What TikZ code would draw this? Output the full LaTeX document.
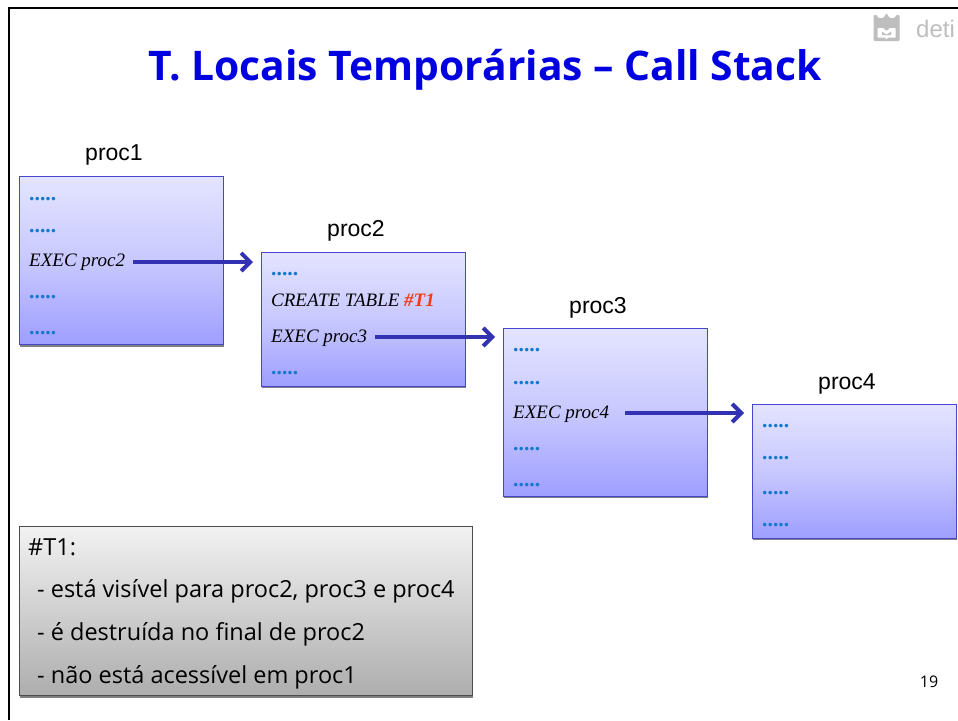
\documentclass[tikz,border=0pt]{standalone}
\usepackage{fontspec}
\setmainfont{Liberation Sans}
\newfontfamily\bodyfont{Open Sans}
\newfontfamily\codefont{Liberation Serif}
\usetikzlibrary{shadows,arrows.meta}
\definecolor{dotblue}{RGB}{20,120,205}
\definecolor{arrowblue}{RGB}{50,50,178}
\definecolor{boxedge}{RGB}{70,70,205}
\definecolor{logogray}{RGB}{190,190,190}
\definecolor{boxtop}{RGB}{228,228,255}
\definecolor{boxmid}{RGB}{200,200,255}
\definecolor{boxbot}{RGB}{158,158,255}
\tikzset{
  x=1pt,y=-1pt,
  softshadow/.style={drop shadow={shadow xshift=0.8pt,shadow yshift=-2pt,opacity=.5,fill=black}},
  procbox/.style={draw=boxedge,line width=0.9pt,top color=boxtop,bottom color=boxbot,middle color=boxmid,
    minimum width=204.5pt,inner sep=0pt,anchor=north west,softshadow},
  proclabel/.style={font=\fontsize{23}{26}\selectfont,anchor=base,inner sep=0pt},
  dots/.style={font=\codefont\bfseries\fontsize{21.6}{24}\selectfont,text=dotblue,anchor=base west,inner sep=0pt},
  code/.style={font=\codefont\itshape\fontsize{19}{20}\selectfont,anchor=base west,inner sep=0pt},
  callarrow/.style={draw=arrowblue,line width=3.8pt,-{Straight Barb[length=9pt,width=18pt,line width=4pt]}},
  notebox/.style={draw=black!70,line width=0.9pt,top color=black!5,bottom color=black!32,
    minimum width=453pt,minimum height=169.5pt,inner sep=0pt,anchor=north west,softshadow},
  notetext/.style={font=\bodyfont\fontsize{23.5}{26}\selectfont,anchor=base west,inner sep=0pt},
}
\begin{document}
\begin{tikzpicture}
\useasboundingbox (0,0) rectangle (958,720);
\fill[white] (0,0) rectangle (958,720);
\draw[black,line width=2.5pt] (9,720) -- (9,8) -- (958,8);
% logo
\fill[logogray,rounded corners=1pt] (873.5,17) -- (873.5,41) -- (899.5,41) -- (899.5,15) -- (896,15) -- (895,18) -- (892,18) -- (889.5,18) -- (886.5,13) -- (883.5,18) -- (878,18) -- (877,15) -- (873.5,15) -- cycle;
\fill[white] (877.5,28) -- (883,28) -- (886.5,31) -- (890,28) -- (895.5,28) -- (895.5,37.5) -- (888.5,37.5) -- (886.5,39) -- (884.5,37.5) -- (877.5,37.5) -- cycle;
\fill[logogray] (882,31.5) -- (885.5,34) -- (887.5,34) -- (891,31.5) -- (891,35) -- (882,35) -- cycle;
\node[anchor=base west,inner sep=0pt,text=logogray,font=\fontsize{24}{26}\selectfont] (logotext) at (916,37) {deti};
% title
\node[anchor=base,inner sep=0pt,font=\bodyfont\bfseries\fontsize{40.8}{44}\selectfont,text={rgb,255:red,0;green,0;blue,225}] (title) at (485,80) {T. Locais Temporárias – Call Stack};
% boxes
\node[procbox,minimum height=168pt] (p1) at (18.7,176.4) {};
\node[procbox,minimum height=134pt] (p2) at (260.7,251.6) {};
\node[procbox,minimum height=168pt] (p3) at (502.7,327.6) {};
\node[procbox,minimum height=134pt] (p4) at (751.7,403.6) {};
% labels
\node[proclabel] (l1) at (114,160) {proc1};
\node[proclabel] (l2) at (356,236) {proc2};
\node[proclabel] (l3) at (598,313) {proc3};
\node[proclabel] (l4) at (847,389) {proc4};
% proc1 content
\node[dots] (a1) at (29,200) {.....};
\node[dots] (a2) at (29,232) {.....};
\node[code] (a3) at (29,266) {EXEC proc2};
\node[dots] (a4) at (29,298) {.....};
\node[dots] (a5) at (29,334) {.....};
% proc2 content
\node[dots] (b1) at (271,275) {.....};
\node[code] (b2) at (271,306) {CREATE TABLE \textcolor[RGB]{240,60,20}{\bfseries \#T1}};
\node[code] (b3) at (271,342) {EXEC proc3};
\node[dots] (b4) at (271,374) {.....};
% proc3 content
\node[dots] (c1) at (513,351) {.....};
\node[dots] (c2) at (513,384) {.....};
\node[code] (c3) at (513,418) {EXEC proc4};
\node[dots] (c4) at (513,450) {.....};
\node[dots] (c5) at (513,486) {.....};
% proc4 content
\node[dots] (d1) at (762,427) {.....};
\node[dots] (d2) at (762,459) {.....};
\node[dots] (d3) at (762,494) {.....};
\node[dots] (d4) at (762,526) {.....};
% arrows
\coordinate (e1) at (253,262);
\coordinate (e2) at (495,337);
\coordinate (e3) at (744,413);
\coordinate (s1) at ([xshift=8pt]a3.base east |- e1);
\coordinate (s2) at ([xshift=8pt]b3.base east |- e2);
\coordinate (s3) at ([xshift=16pt]c3.base east |- e3);
\draw[callarrow] (s1) -- (e1);
\draw[callarrow] (s2) -- (e2);
\draw[callarrow] (s3) -- (e3);
% note
\node[notebox] (note) at (18.7,525.7) {};
\node[notetext] (n1) at (28,555) {\#T1:};
\node[notetext] (n2) at (37,597) {- está visível para proc2, proc3 e proc4};
\node[notetext] (n3) at (37,640) {- é destruída no final de proc2};
\node[notetext] (n4) at (37,683) {- não está acessível em proc1};
\node[anchor=base,inner sep=0pt,font=\bodyfont\fontsize{16}{18}\selectfont] (page) at (929,687) {19};
\end{tikzpicture}
\end{document}
